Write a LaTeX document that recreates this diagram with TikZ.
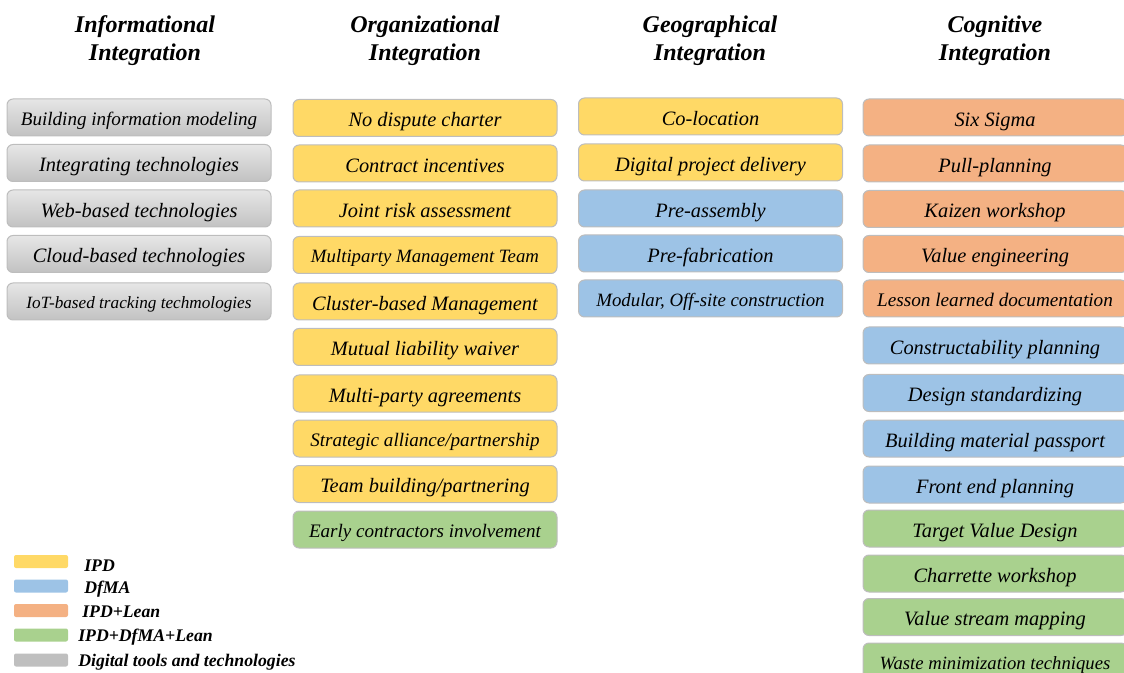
\documentclass[tikz,border=0pt]{standalone}
\usepackage{fontspec}
\setmainfont{Liberation Serif}
\definecolor{ipdc}{HTML}{FFD966}
\definecolor{dfmac}{HTML}{9DC3E6}
\definecolor{leanc}{HTML}{F4B183}
\definecolor{allc}{HTML}{A9D18E}
\definecolor{grayt}{HTML}{E6E6E6}
\definecolor{grayb}{HTML}{C2C2C2}
\definecolor{grays}{HTML}{BFBFBF}
\definecolor{boxline}{HTML}{BDBDBD}
\begin{document}
\begin{tikzpicture}[x=0.75pt,y=-0.75pt,
  item/.style={draw=boxline, line width=0.75pt, rounded corners=4.5pt,
    minimum width=198pt, minimum height=27.75pt, inner sep=0pt,
    text height=13pt, text depth=0pt,
    font=\fontsize{15.3}{18}\selectfont\itshape, text=black},
  fs/.code={\pgfmathsetmacro\mytxh{0.85*#1}\tikzset{font=\fontsize{#1}{#1}\selectfont\itshape, text height=\mytxh pt}},
  ipd/.style={item, fill=ipdc},
  dfma/.style={item, fill=dfmac},
  lean/.style={item, fill=leanc},
  allb/.style={item, fill=allc},
  digi/.style={item, top color=grayt, bottom color=grayb},
  head/.style={font=\fontsize{18}{21}\selectfont\bfseries\itshape, align=center},
  swatch/.style={rounded corners=1.5pt, minimum width=40.5pt, minimum height=9.75pt, inner sep=0pt},
  legtext/.style={anchor=base west, inner sep=0pt, font=\fontsize{13.3}{16}\selectfont\bfseries\itshape}
]
\useasboundingbox (0,0) rectangle (1124,673);
\clip (0,0) rectangle (1124,673);

% headers
\node[head] (h1) at (145,41) {Informational\\Integration};
\node[head] (h2) at (425,41) {Organizational\\Integration};
\node[head] (h3) at (710,41) {Geographical\\Integration};
\node[head] (h4) at (995,41) {Cognitive\\Integration};

% column 1
\node[digi, fs=14.3] (a1) at (139,117.5) {Building information modeling};
\node[digi] (a2) at (139,163) {Integrating technologies};
\node[digi] (a3) at (139,208.5) {Web-based technologies};
\node[digi] (a4) at (139,254) {Cloud-based technologies};
\node[digi, fs=12.9] (a5) at (139,301.5) {IoT-based tracking techmologies};

% column 2
\node[ipd] (b1) at (425,118) {No dispute charter};
\node[ipd] (b2) at (425,163.5) {Contract incentives};
\node[ipd] (b3) at (425,208.5) {Joint risk assessment};
\node[ipd, fs=14.1] (b4) at (425,255) {Multiparty Management Team};
\node[ipd] (b5) at (425,301.5) {Cluster-based Management};
\node[ipd] (b6) at (425,347) {Mutual liability waiver};
\node[ipd] (b7) at (425,393.5) {Multi-party agreements};
\node[ipd, fs=14.3] (b8) at (425,438.5) {Strategic alliance/partnership};
\node[ipd] (b9) at (425,484) {Team building/partnering};
\node[allb, fs=14.3] (b10) at (425,529.5) {Early contractors involvement};

% column 3
\node[ipd] (c1) at (710.5,116.5) {Co-location};
\node[ipd] (c2) at (710.5,162.5) {Digital project delivery};
\node[dfma] (c3) at (710.5,208.5) {Pre-assembly};
\node[dfma] (c4) at (710.5,253.5) {Pre-fabrication};
\node[dfma, fs=14.1] (c5) at (710.5,298.5) {Modular, Off-site construction};

% column 4
\node[lean] (d1) at (995,117.5) {Six Sigma};
\node[lean] (d2) at (995,163.5) {Pull-planning};
\node[lean] (d3) at (995,209) {Kaizen workshop};
\node[lean] (d4) at (995,254) {Value engineering};
\node[lean, fs=14.4] (d5) at (995,298.5) {Lesson learned documentation};
\node[dfma] (d6) at (995,345.5) {Constructability planning};
\node[dfma] (d7) at (995,393) {Design standardizing};
\node[dfma] (d8) at (995,438.5) {Building material passport};
\node[dfma] (d9) at (995,484.5) {Front end planning};
\node[allb] (d10) at (995,528.5) {Target Value Design};
\node[allb] (d11) at (995,573.5) {Charrette workshop};
\node[allb] (d12) at (995,617) {Value stream mapping};
\node[allb, fs=14.0] (d13) at (995,661.5) {Waste minimization techniques};

% legend
\node[swatch, fill=ipdc] (l1) at (41,561.5) {};
\node[swatch, fill=dfmac] (l2) at (41,586) {};
\node[swatch, fill=leanc] (l3) at (41,610.5) {};
\node[swatch, fill=allc] (l4) at (41,635) {};
\node[swatch, fill=grays] (l5) at (41,660) {};
\node[legtext] (t1) at (84,571) {IPD};
\node[legtext] (t2) at (84,593) {DfMA};
\node[legtext] (t3) at (82,617) {IPD+Lean};
\node[legtext] (t4) at (78,641) {IPD+DfMA+Lean};
\node[legtext] (t5) at (78,666) {Digital tools and technologies};
\end{tikzpicture}
\end{document}
